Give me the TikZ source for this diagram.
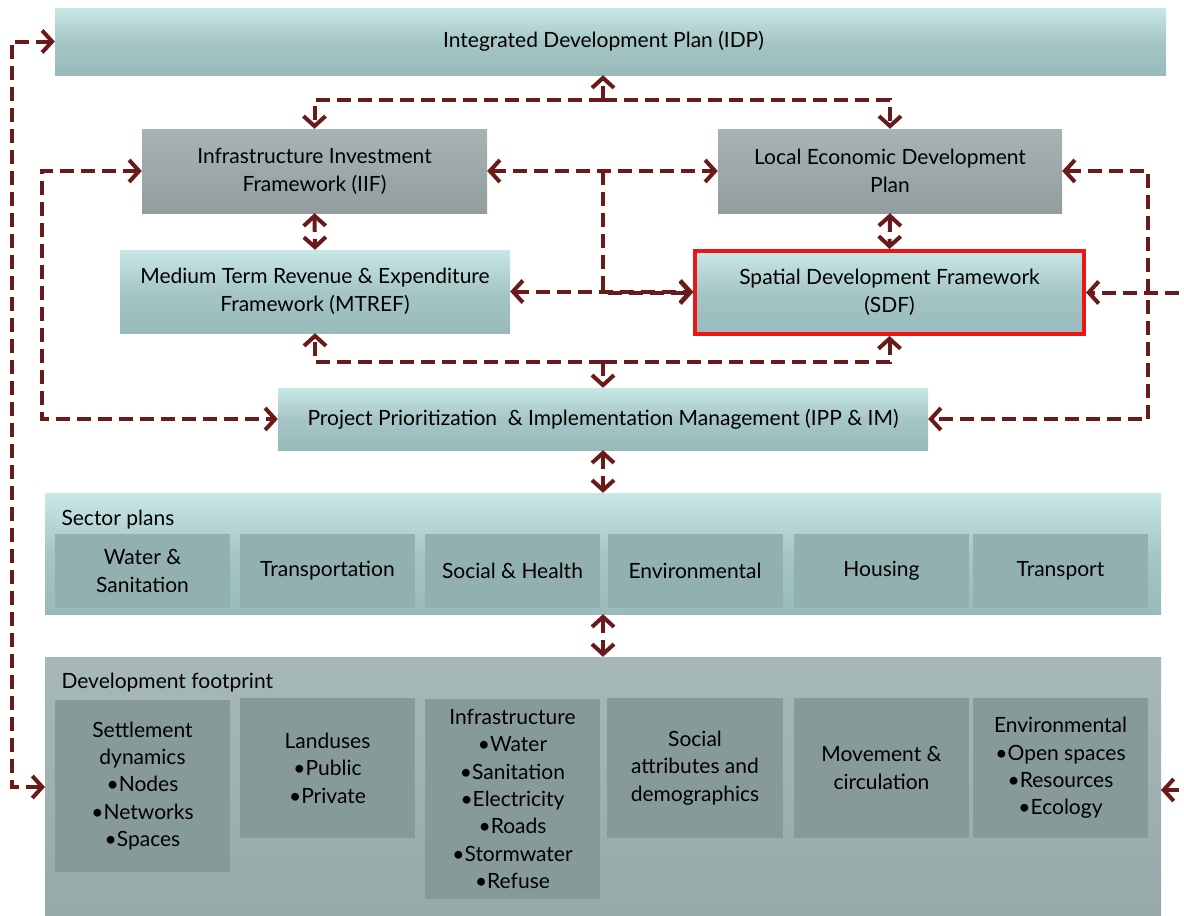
\documentclass[tikz,border=0pt]{standalone}
\usepackage{fontspec}
\setmainfont{Lato}
\usetikzlibrary{arrows.meta,calc}
\definecolor{conncol}{RGB}{106,26,26}
\definecolor{tealL}{RGB}{200,232,232}
\definecolor{tealM}{RGB}{166,198,198}
\definecolor{tealD}{RGB}{152,186,186}
\definecolor{grayL}{RGB}{168,180,180}
\definecolor{grayD}{RGB}{146,158,158}
\definecolor{spInner}{RGB}{146,176,176}
\definecolor{dfL}{RGB}{166,184,184}
\definecolor{dfD}{RGB}{150,168,168}
\definecolor{dfInner}{RGB}{134,154,154}
\definecolor{sdfred}{RGB}{240,20,20}
\tikzset{
  txt/.style={font=\fontsize{21}{28}\selectfont, align=center, text=black},
  tealbox/.style={txt, rectangle, inner sep=0pt, top color=tealL, bottom color=tealD, middle color=tealM},
  graybox/.style={txt, rectangle, inner sep=0pt, top color=grayL, bottom color=grayD},
  spbox/.style={txt, rectangle, inner sep=0pt, fill=spInner},
  dfbox/.style={txt, font=\fontsize{21}{27.4}\selectfont, rectangle, inner sep=0pt, fill=dfInner},
  conn/.style={draw=conncol, line width=4pt, dash pattern=on 14pt off 7pt},
  tip/.tip={Straight Barb[length=10pt,width=22pt]},
}
\begin{document}
\begin{tikzpicture}[x=1pt,y=-1pt]
\useasboundingbox (0,0) rectangle (1184,916);
% outer group boxes
\node[tealbox, minimum width=1116pt, minimum height=121pt] (SP) at (603,553.5) {};
\node[txt, anchor=west] (SPlab) at (58,520) {Sector plans};
\node[rectangle, inner sep=0pt, top color=dfL, bottom color=dfD, minimum width=1116pt, minimum height=273pt] (DF) at (603,793.5) {};
\node[txt, anchor=west] (DFlab) at (58,683) {Development footprint};
% main boxes
\node[tealbox, minimum width=1111pt, minimum height=67pt] (IDP) at (610.5,41.5) {\hspace*{-14pt}Integrated Development Plan (IDP)};
\node[graybox, minimum width=345pt, minimum height=84pt] (IIF) at (314.5,171) {Infrastructure Investment\\Framework (IIF)};
\node[graybox, minimum width=344pt, minimum height=84pt] (LED) at (890,171) {Local Economic Development\\Plan};
\node[tealbox, minimum width=390pt, minimum height=83pt] (MTREF) at (315,291.5) {Medium Term Revenue \& Expenditure\\Framework (MTREF)};
\node[tealbox, draw=sdfred, line width=4pt, minimum width=389pt, minimum height=83pt] (SDF) at (889.5,292.5) {Spatial Development Framework\\(SDF)};
\node[tealbox, minimum width=650pt, minimum height=62pt] (IPP) at (603,419) {Project Prioritization \ \& Implementation Management (IPP \& IM)};
% sector plan boxes
\foreach \n/\cx/\t in {s1/142.5/{Water \&\\Sanitation}, s2/327.5/Transportation, s3/512.5/{Social \& Health}, s4/695/Environmental, s5/881.5/Housing, s6/1060.5/Transport}
  \node[spbox, minimum width=175pt, minimum height=74pt] (\n) at (\cx,571) {\t};
% development footprint boxes
\node[dfbox, minimum width=175pt, minimum height=172pt] (d1) at (142.5,786) {Settlement\\dynamics\\•Nodes\\•Networks\\•Spaces};
\node[dfbox, minimum width=175pt, minimum height=140pt] (d2) at (327.5,768) {Landuses\\•Public\\•Private};
\node[dfbox, minimum width=175pt, minimum height=200pt] (d3) at (512.5,799) {Infrastructure\\•Water\\•Sanitation\\•Electricity\\•Roads\\•Stormwater\\•Refuse};
\node[dfbox, minimum width=176pt, minimum height=140pt] (d4) at (695,768) {Social\\attributes and\\demographics};
\node[dfbox, minimum width=175pt, minimum height=140pt] (d5) at (881.5,768) {Movement \&\\circulation};
\node[dfbox, minimum width=175pt, minimum height=140pt] (d6) at (1060.5,768) {Environmental\\•Open spaces\\•Resources\\•Ecology};
% coordinates
\coordinate (jTop) at (603,100);
\coordinate (jMid) at (603,171);
\coordinate (jBot) at (603,362);
\coordinate (offR1) at (1200,292.5);
\coordinate (offR2) at (1200,790);
\coordinate (dfLeft) at (45,787);
\coordinate (dfRight) at (1161,790);
% connectors
\draw[conn,-tip] (jTop) -- (jTop |- IDP.south);
\draw[conn,-tip] (jTop) -| (IIF.north);
\draw[conn,-tip] (jTop) -| (LED.north);
\draw[conn,tip-tip] (IIF.east) -- (LED.west);
\draw[conn,-tip] (jMid) |- (SDF.west);
\draw[conn,tip-tip] (IIF.south) -- (MTREF.north);
\draw[conn,tip-tip] (LED.south) -- (SDF.north);
\draw[conn,tip-tip] (MTREF.east) -- (MTREF.east -| SDF.west);
\draw[conn,-tip] (jBot) -- (IPP.north);
\draw[conn,-tip] (jBot) -| (MTREF.south);
\draw[conn,-tip] (jBot) -| (SDF.south);
\draw[conn,tip-tip] (IIF.west) -- ++(-100,0) |- (IPP.west);
\draw[conn,tip-tip] (LED.east) -- ++(86,0) |- (IPP.east);
\draw[conn,-tip] (offR1) -- (SDF.east);
\draw[conn,tip-tip] (IDP.west) -- ++(-43,0) |- (dfLeft);
\draw[conn,-tip] (offR2) -- (dfRight);
\draw[conn,tip-tip] (IPP.south) -- (SP.north);
\draw[conn,tip-tip] (SP.south) -- (DF.north);
\end{tikzpicture}
\end{document}
